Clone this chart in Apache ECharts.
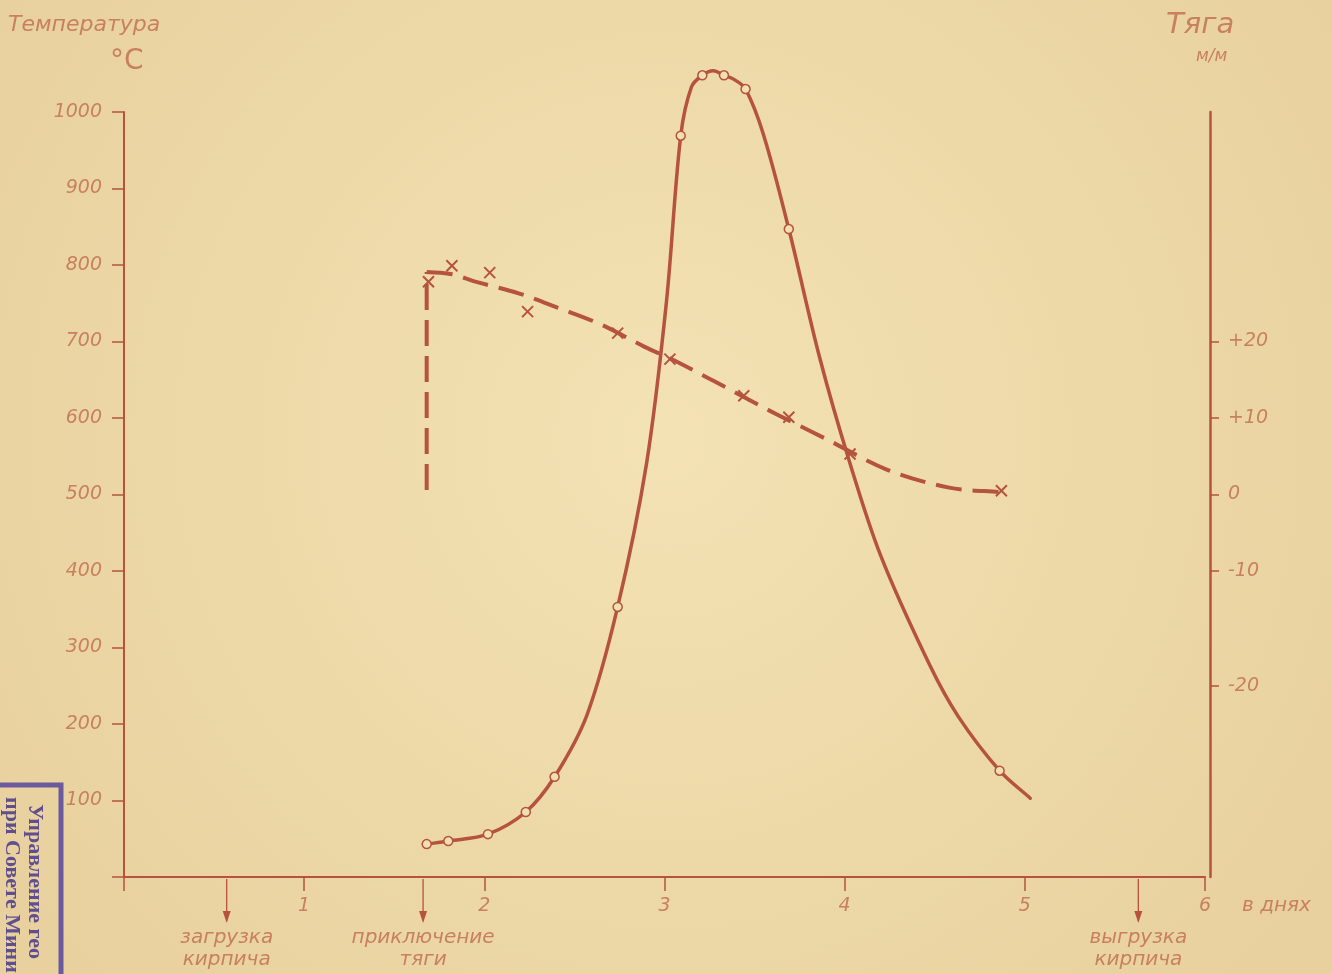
<!DOCTYPE html>
<html>
<head>
<meta charset="utf-8">
<script src="https://cdn.jsdelivr.net/npm/echarts@6/dist/echarts.min.js"></script>
<style>
  html, body { margin: 0; padding: 0; }
  #chart { width: 1332px; height: 974px; }
</style>
</head>
<body>
<div id="chart"></div>
<script>
// температура, °C (сплошная кривая и замеренные точки)
const tempCurveDays = [1.68, 1.80, 2.02, 2.23, 2.39, 2.57, 2.74, 2.90, 3.01, 3.09,
    3.15, 3.21, 3.27, 3.33, 3.39, 3.45, 3.55, 3.69, 3.86, 4.02, 4.20, 4.47,
    4.63, 4.86, 5.03];
const tempCurveValues = [43, 47, 56, 85, 131, 212, 353, 540, 750, 969,
    1033, 1048, 1054, 1048, 1042, 1030, 970, 847, 680, 548, 420, 278,
    210, 139, 103];
const tempPointDays = [1.68, 1.80, 2.02, 2.23, 2.39, 2.74, 3.09, 3.21, 3.33, 3.45, 3.69, 4.86];
const tempPointValues = [43, 47, 56, 85, 131, 353, 969, 1048, 1048, 1030, 847, 139];

// тяга, мм (пунктир и точки-крестики)
const draftRiseDay = 1.68;
const draftRiseValues = [0.6, 29.1];
const draftLineDays = [1.68, 1.82, 1.94, 2.19, 2.41, 2.65, 2.89, 3.03, 3.26, 3.58, 3.91, 4.24, 4.58, 4.87];
const draftLineValues = [29.1, 28.8, 27.9, 26.3, 24.4, 22.2, 19.3, 17.8, 15.0, 11.0, 7.1, 3.2, 0.9, 0.3];
const draftPointDays = [1.69, 1.82, 2.03, 2.24, 2.74, 3.03, 3.44, 3.69, 4.03, 4.87];
const draftPointValues = [27.8, 29.9, 29.0, 23.9, 21.1, 17.7, 12.9, 10.1, 5.3, 0.5];

// шкала тяги: на оригинале отметка "-20" нарисована ниже, чем положено
const draftTickValues = [20, 10, 0, -10, -25];
const draftTickLabels = ['+20', '+10', '0', '-10', '-20'];

// события по оси дней
const eventDays = [0.57, 1.66, 5.63];
const eventLabels = [['загрузка', 'кирпича'], ['приключение', 'тяги'], ['выгрузка', 'кирпича']];

const ink = '#b5533f';
const pencil = '#c8805f';
const fontFam = '"DejaVu Sans", sans-serif';

function zip(xs, ys) {
    let out = [];
    for (let i = 0; i < xs.length; i++) {
        out.push([xs[i], ys[i]]);
    }
    return out;
}

// плавная кривая через точки (касательная по соседям, плечо = 1/3 отрезка)
function smoothPath(pts) {
    let d = 'M' + pts[0][0] + ',' + pts[0][1];
    function dir(i) {
        let a = pts[Math.max(i - 1, 0)];
        let b = pts[Math.min(i + 1, pts.length - 1)];
        let dx = b[0] - a[0], dy = b[1] - a[1];
        let len = Math.sqrt(dx * dx + dy * dy) || 1;
        return [dx / len, dy / len];
    }
    for (let i = 0; i < pts.length - 1; i++) {
        let p1 = pts[i], p2 = pts[i + 1];
        let seg = Math.sqrt(Math.pow(p2[0] - p1[0], 2) + Math.pow(p2[1] - p1[1], 2)) / 3;
        let t1 = dir(i), t2 = dir(i + 1);
        d += 'C' + (p1[0] + t1[0] * seg) + ',' + (p1[1] + t1[1] * seg) + ' '
            + (p2[0] - t2[0] * seg) + ',' + (p2[1] - t2[1] * seg) + ' '
            + p2[0] + ',' + p2[1];
    }
    return d;
}

function curveSeries(name, yIdx, days, values, lineStyle) {
    return {
        name: name,
        type: 'custom',
        yAxisIndex: yIdx,
        data: [0],
        clip: false,
        silent: true,
        z: 3,
        renderItem: function (params, api) {
            let pts = days.map((d, i) => api.coord([d, values[i]]));
            return {
                type: 'path',
                shape: { pathData: smoothPath(pts) },
                style: Object.assign({ fill: 'none', stroke: ink, lineCap: 'round' }, lineStyle)
            };
        }
    };
}

let chart = echarts.init(document.getElementById('chart'));

let labelStyle = {
    color: pencil,
    fontStyle: 'italic',
    fontFamily: fontFam,
    fontSize: 19
};

let option = {
    animation: false,
    backgroundColor: {
        type: 'radial', x: 0.5, y: 0.45, r: 0.8,
        colorStops: [
            { offset: 0, color: '#f3e2b4' },
            { offset: 1, color: '#e8d19e' }
        ]
    },
    grid: {
        left: 124, right: 127, top: 112, bottom: 97,
        containLabel: false,
        outerBoundsMode: 'none'
    },
    xAxis: {
        type: 'value',
        min: 0, max: 6, interval: 1,
        splitLine: { show: false },
        axisLine: { lineStyle: { color: ink, width: 2 } },
        axisTick: { length: 14, lineStyle: { color: ink, width: 1.5 } },
        axisLabel: Object.assign({}, labelStyle, {
            margin: 20,
            formatter: v => v === 0 ? '' : String(v)
        })
    },
    yAxis: [
        {
            type: 'value',
            min: 0, max: 1000, interval: 100,
            splitLine: { show: false },
            axisLine: { show: true, lineStyle: { color: ink, width: 2 } },
            axisTick: { length: 12, lineStyle: { color: ink, width: 1.5 } },
            axisLabel: Object.assign({}, labelStyle, {
                margin: 22,
                formatter: v => v === 0 ? '' : String(v)
            })
        },
        {
            type: 'value',
            position: 'right',
            offset: 5,
            min: -50, max: 50,
            splitLine: { show: false },
            axisLine: { show: true, onZero: false, lineStyle: { color: ink, width: 2.5 } },
            axisTick: { length: 9, customValues: draftTickValues, lineStyle: { color: ink, width: 1.5 } },
            axisLabel: Object.assign({}, labelStyle, {
                margin: 18,
                customValues: draftTickValues,
                formatter: v => draftTickLabels[draftTickValues.indexOf(v)]
            })
        }
    ],
    series: [
        curveSeries('температура', 0, tempCurveDays, tempCurveValues, { lineWidth: 3.5 }),
        {
            name: 'температура, точки',
            type: 'scatter',
            yAxisIndex: 0,
            data: zip(tempPointDays, tempPointValues),
            clip: false,
            symbol: 'circle',
            symbolSize: 9,
            itemStyle: { color: '#f2e0b2', borderColor: ink, borderWidth: 1.5, opacity: 1 },
            z: 4
        },
        {
            name: 'тяга, подъём',
            type: 'line',
            yAxisIndex: 1,
            data: [[draftRiseDay, draftRiseValues[0]], [draftRiseDay, draftRiseValues[1]]],
            showSymbol: false,
            lineStyle: { color: ink, width: 4, type: [26, 10] },
            z: 3
        },
        curveSeries('тяга', 1, draftLineDays, draftLineValues, { lineWidth: 4, lineDash: [26, 11], lineCap: 'butt' }),
        {
            name: 'тяга, точки',
            type: 'scatter',
            yAxisIndex: 1,
            data: zip(draftPointDays, draftPointValues),
            symbol: 'path://M0,0L10,10M10,0L0,10',
            symbolSize: 11,
            itemStyle: { color: 'none', borderColor: ink, borderWidth: 2, opacity: 1 },
            z: 4
        }
    ]
};

chart.setOption(option);

// подписи, стрелки и штамп
let textBase = { fill: pencil, fontStyle: 'italic', fontFamily: fontFam };
let graphics = [
    { type: 'text', left: 8, top: 14, style: Object.assign({}, textBase, { text: 'Температура', fontSize: 22 }) },
    { type: 'text', left: 110, top: 48, style: Object.assign({}, textBase, { text: '°C', fontSize: 28, fontStyle: 'normal' }) },
    { type: 'text', left: 1166, top: 11, style: Object.assign({}, textBase, { text: 'Тяга', fontSize: 29 }) },
    { type: 'text', left: 1196, top: 48, style: Object.assign({}, textBase, { text: 'м/м', fontSize: 17 }) },
    { type: 'text', left: 1242, top: 896, style: Object.assign({}, textBase, { text: 'в днях', fontSize: 20 }) }
];

let axisY = chart.convertToPixel({ yAxisIndex: 0 }, 0);
for (let i = 0; i < eventDays.length; i++) {
    let px = chart.convertToPixel({ xAxisIndex: 0 }, eventDays[i]);
    graphics.push({
        type: 'line',
        shape: { x1: px, y1: axisY + 2, x2: px, y2: axisY + 44 },
        style: { stroke: ink, lineWidth: 1.3 }
    });
    graphics.push({
        type: 'polygon',
        shape: { points: [[px - 4, axisY + 34], [px + 4, axisY + 34], [px, axisY + 46]] },
        style: { fill: ink }
    });
    graphics.push({
        type: 'text',
        x: px, y: axisY + 50,
        style: Object.assign({}, textBase, {
            text: eventLabels[i].join('\n'),
            fontSize: 20,
            lineHeight: 22,
            align: 'center'
        })
    });
}

// штамп в левом нижнем углу
graphics.push({
    type: 'rect',
    shape: { x: -20, y: 785, width: 81, height: 200 },
    style: { fill: 'rgba(0,0,0,0)', stroke: '#6c5a9e', lineWidth: 5 }
});
graphics.push({
    type: 'text',
    x: 46, y: 804,
    rotation: -Math.PI / 2,
    style: { text: 'Управление гео', fill: '#5f4f8f', fontSize: 22, fontFamily: '"Liberation Serif", serif', fontWeight: 'bold' }
});
graphics.push({
    type: 'text',
    x: 23, y: 797,
    rotation: -Math.PI / 2,
    style: { text: 'при Совете Мини', fill: '#5f4f8f', fontSize: 22, fontFamily: '"Liberation Serif", serif', fontWeight: 'bold' }
});

chart.setOption({ graphic: graphics });
</script>
</body>
</html>
